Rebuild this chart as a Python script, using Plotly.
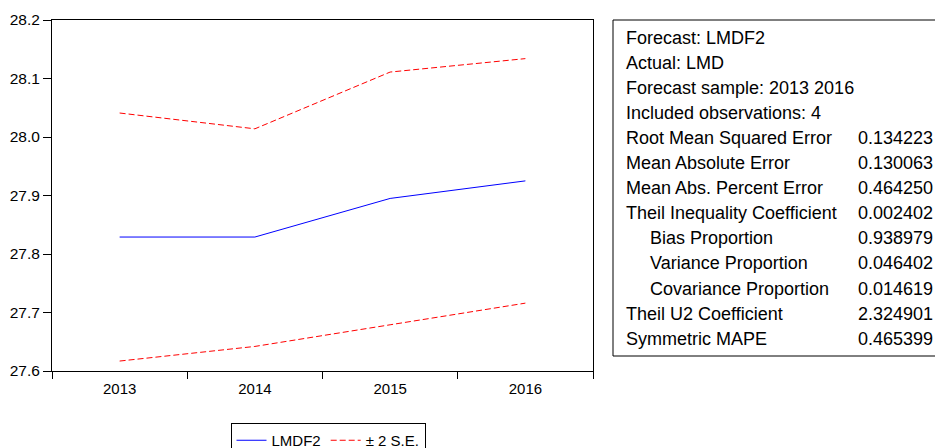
import plotly.graph_objects as go

years = ["2013", "2014", "2015", "2016"]
forecast = [27.829, 27.829, 27.895, 27.925]
upper = [28.041, 28.014, 28.111, 28.134]
lower = [27.617, 27.642, 27.679, 27.716]

stat_labels = [
    "Forecast: LMDF2",
    "Actual: LMD",
    "Forecast sample: 2013 2016",
    "Included observations: 4",
    "Root Mean Squared Error",
    "Mean Absolute Error",
    "Mean Abs. Percent Error",
    "Theil Inequality Coefficient",
    "   Bias Proportion",
    "   Variance Proportion",
    "   Covariance Proportion",
    "Theil U2 Coefficient",
    "Symmetric MAPE",
]
stat_values = ["", "", "", "", "0.134223", "0.130063", "0.464250", "0.002402",
               "0.938979", "0.046402", "0.014619", "2.324901", "0.465399"]

W, H = 935, 448
L, R, T, B = 52, 593, 20, 371
FONT = "Arial, Liberation Sans, sans-serif"


def px(x):
    return (x - L) / (R - L)


def py(y):
    return (B - y) / (B - T)


fig = go.Figure()
fig.add_trace(go.Scatter(x=years, y=forecast, mode="lines", name="LMDF2",
                         line=dict(color="#0000FF", width=1)))
fig.add_trace(go.Scatter(x=years, y=upper, mode="lines", name="± 2 S.E.",
                         line=dict(color="#FF0000", width=1, dash="6px,3px")))
fig.add_trace(go.Scatter(x=years, y=lower, mode="lines", name="± 2 S.E.",
                         showlegend=False,
                         line=dict(color="#FF0000", width=1, dash="6px,3px")))

fig.update_layout(
    template="none",
    width=W, height=H,
    margin=dict(l=L, r=W - R, t=T, b=H - B, pad=0, autoexpand=False),
    plot_bgcolor="white", paper_bgcolor="white",
    font=dict(family=FONT, size=15, color="black"),
    showlegend=True,
    legend=dict(orientation="h", x=px(328), xanchor="center", y=py(423), yanchor="top",
                bordercolor="black", borderwidth=1, bgcolor="white",
                font=dict(size=15), itemwidth=30, tracegroupgap=0),
    xaxis=dict(type="category", range=[-0.5, 3.5], tickson="boundaries",
               ticks="outside", ticklen=7, tickcolor="black", tickwidth=1,
               showline=True, linecolor="black", linewidth=1, mirror=True,
               showgrid=False, zeroline=False, automargin=False,
               ticklabelstandoff=4, tickfont=dict(size=15)),
    yaxis=dict(range=[27.6, 28.2], dtick=0.1, tick0=27.6, tickformat=".1f",
               ticks="outside", ticklen=8, tickcolor="black", tickwidth=1,
               showline=True, linecolor="black", linewidth=1, mirror=True,
               showgrid=False, zeroline=False, automargin=False,
               tickfont=dict(size=15.5)),
)

fig.add_shape(type="rect", xref="paper", yref="paper",
              x0=px(613), x1=px(945), y0=py(356), y1=py(20),
              line=dict(color="black", width=1), fillcolor="rgba(0,0,0,0)")

row0, step = 38, 25.05
for i, (lab, val) in enumerate(zip(stat_labels, stat_values)):
    yy = row0 + i * step
    indent = 24 if lab.startswith("   ") else 0
    fig.add_annotation(xref="paper", yref="paper", x=px(625 + indent), y=py(yy),
                       text=lab.strip(), showarrow=False, xanchor="left", yanchor="middle",
                       borderpad=0, font=dict(family=FONT, size=18, color="black"))
    if val:
        fig.add_annotation(xref="paper", yref="paper", x=px(857), y=py(yy),
                           text=val, showarrow=False, xanchor="left", yanchor="middle",
                           borderpad=0, font=dict(family=FONT, size=18, color="black"))

fig.write_html("out.html", config={"displayModeBar": False},
               post_script="document.body.style.margin='0px';")
